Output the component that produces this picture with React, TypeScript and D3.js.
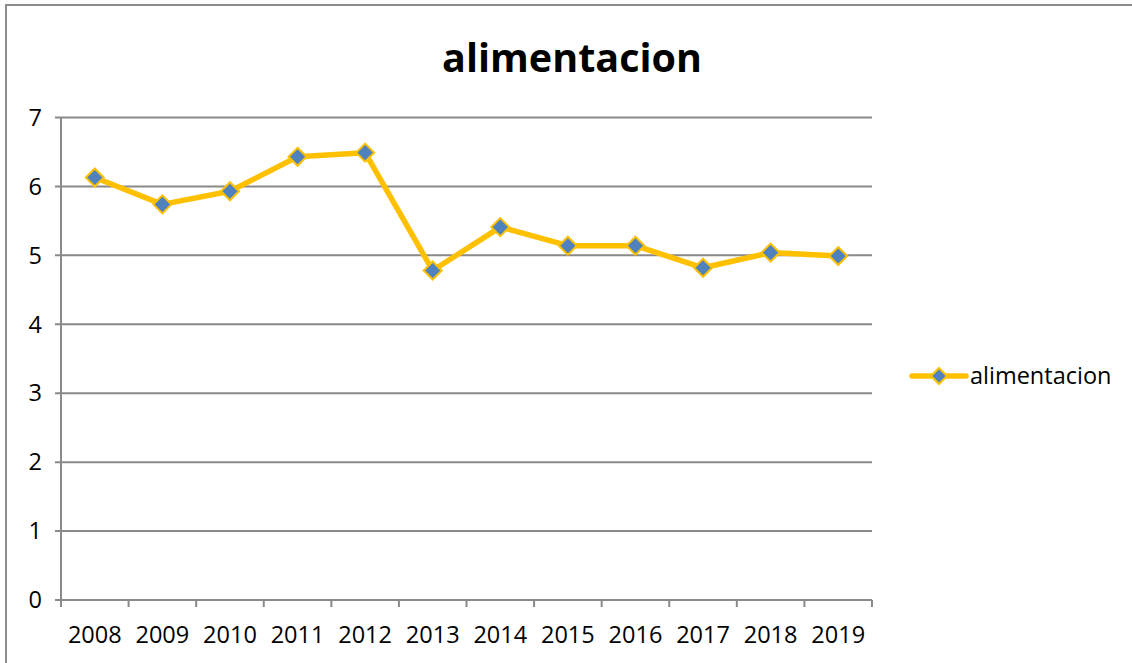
import React from "react";
import * as d3 from "d3";

// chart values
const years = ["2008", "2009", "2010", "2011", "2012", "2013", "2014", "2015", "2016", "2017", "2018", "2019"];
const alimentacion = [6.13, 5.74, 5.93, 6.43, 6.49, 4.78, 5.41, 5.14, 5.14, 4.82, 5.04, 4.99];
const yTicks = [0, 1, 2, 3, 4, 5, 6, 7];

const size = { width: 1132, height: 663 };
const plot = { left: 61, right: 872, top: 117.5, bottom: 600 };
const font = "'Open Sans', Lato, sans-serif";
const gray = "#898989";
const lineColor = "#FFC000";
const markerColor = "#4F81BD";

function diamond(cx: number, cy: number, r: number) {
  return `M${cx},${cy - r}L${cx + r},${cy}L${cx},${cy + r}L${cx - r},${cy}Z`;
}

function App() {
  const x = d3.scaleBand().domain(years).range([plot.left, plot.right]);
  const y = d3.scaleLinear().domain([0, 7]).range([plot.bottom, plot.top]);
  const cx = (d: string) => (x(d) as number) + x.bandwidth() / 2;

  const line = d3
    .line<number>()
    .x((d, i) => cx(years[i]))
    .y((d) => y(d));

  // boundaries between categories, for the x tick marks
  const bounds = years.map((d) => x(d) as number).concat([plot.right]);

  return (
    <svg width={size.width} height={size.height} style={{ position: "absolute", left: 0, top: 0 }}>
      <rect width={size.width} height={size.height} fill="white" />
      {/* outer chart frame, cropped at right and bottom */}
      <rect x={6} y={5} width={1140} height={700} fill="none" stroke="#8c8c8c" strokeWidth={2} />

      <text x={572} y={72} textAnchor="middle" fontFamily={font} fontWeight="bold" fontSize={39.5} fill="#000">
        alimentacion
      </text>

      {/* gridlines */}
      {yTicks.map((t) => (
        <g key={t}>
          <line x1={plot.left - 6} x2={plot.right} y1={y(t)} y2={y(t)} stroke={gray} strokeWidth={2} />
          <text x={42} y={y(t)} dy="0.35em" textAnchor="end" fontFamily={font} fontSize={23.5} fill="#000">
            {t}
          </text>
        </g>
      ))}

      {/* axes */}
      <line x1={plot.left} x2={plot.left} y1={plot.top} y2={plot.bottom} stroke={gray} strokeWidth={2} />
      {bounds.map((b, i) => (
        <line key={i} x1={b} x2={b} y1={plot.bottom} y2={plot.bottom + 7} stroke={gray} strokeWidth={2} />
      ))}
      {years.map((d) => (
        <text key={d} x={cx(d)} y={643} textAnchor="middle" fontFamily={font} fontSize={23.5} fill="#000">
          {d}
        </text>
      ))}

      {/* series */}
      <path d={line(alimentacion) as string} fill="none" stroke={lineColor} strokeWidth={5.5} strokeLinejoin="round" />
      {alimentacion.map((v, i) => (
        <path key={i} d={diamond(cx(years[i]), y(v), 9)} fill={markerColor} stroke={lineColor} strokeWidth={2} />
      ))}

      {/* legend */}
      <line x1={912} x2={966} y1={376} y2={376} stroke={lineColor} strokeWidth={5.5} strokeLinecap="round" />
      <path d={diamond(939, 376, 8)} fill={markerColor} stroke={lineColor} strokeWidth={2} />
      <text x={970} y={376} dy="0.35em" fontFamily={font} fontSize={23.5} fill="#000">
        alimentacion
      </text>
    </svg>
  );
}

export default App;
